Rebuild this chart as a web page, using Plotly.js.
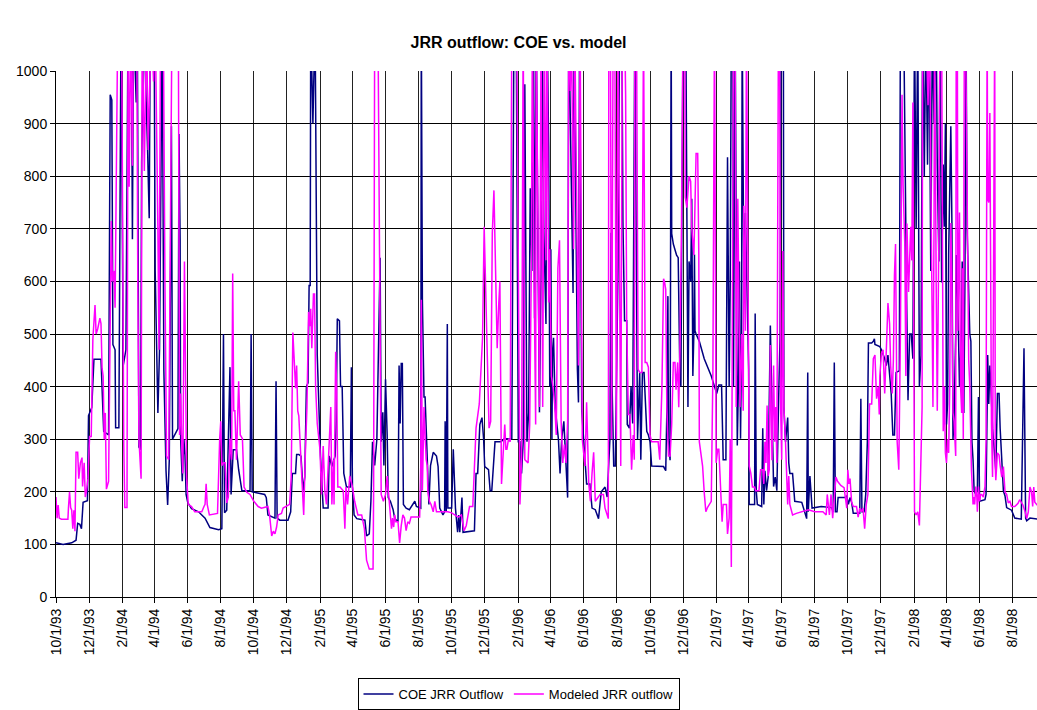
<!DOCTYPE html>
<html>
<head>
<meta charset="utf-8">
<script src="https://cdn.plot.ly/plotly-3.0.1.min.js"></script>
<style>html,body{margin:0;padding:0;background:#fff;}#chart{width:1037px;height:710px;}</style>
</head>
<body>
<div id="chart"></div>
<script>
// COE JRR Outflow (observed)
const coeDates = [
"1993-10-01","1993-10-14","1993-10-30","1993-11-07","1993-11-10","1993-11-14","1993-11-17","1993-11-20","1993-11-28","1993-11-30",
"1993-12-06","1993-12-10","1993-12-23","1993-12-26","1993-12-28","1994-01-06","1994-01-09","1994-01-12","1994-01-14","1994-01-18",
"1994-01-19","1994-01-25","1994-01-29","1994-02-02","1994-02-07","1994-02-11","1994-02-17","1994-02-19","1994-02-21","1994-02-26",
"1994-02-28","1994-03-03","1994-03-06","1994-03-08","1994-03-12","1994-03-19","1994-03-22","1994-03-24","1994-03-31","1994-04-02",
"1994-04-07","1994-04-10","1994-04-12","1994-04-15","1994-04-18","1994-04-22","1994-04-25","1994-04-28","1994-05-02","1994-05-04",
"1994-05-14","1994-05-16","1994-05-18","1994-05-19","1994-05-22","1994-05-25","1994-05-27","1994-05-29","1994-06-01","1994-06-08",
"1994-06-21","1994-07-03","1994-07-12","1994-07-28","1994-08-03","1994-08-06","1994-08-08","1994-08-12","1994-08-18","1994-08-20",
"1994-08-24","1994-08-30","1994-09-03","1994-09-09","1994-09-24","1994-09-26","1994-09-28","1994-10-21","1994-10-24","1994-10-27",
"1994-11-09","1994-11-11","1994-11-13","1994-11-18","1994-12-03","1994-12-08","1994-12-11","1994-12-17","1994-12-19","1994-12-23",
"1994-12-27","1994-12-31","1995-01-03","1995-01-06","1995-01-09","1995-01-11","1995-01-13","1995-01-14","1995-01-18","1995-01-22",
"1995-01-26","1995-01-30","1995-02-01","1995-02-03","1995-02-06","1995-02-15","1995-02-17","1995-02-22","1995-02-28","1995-03-02",
"1995-03-04","1995-03-08","1995-03-10","1995-03-13","1995-03-16","1995-03-21","1995-03-28","1995-03-30","1995-04-01","1995-04-04",
"1995-04-09","1995-04-24","1995-04-27","1995-05-02","1995-05-05","1995-05-08","1995-05-12","1995-05-16","1995-05-20","1995-05-22",
"1995-05-24","1995-05-27","1995-05-29","1995-06-01","1995-06-04","1995-06-06","1995-06-10","1995-06-15","1995-06-18","1995-06-24",
"1995-06-26","1995-06-28","1995-06-30","1995-07-02","1995-07-04","1995-07-09","1995-07-15","1995-07-25","1995-07-28","1995-08-05",
"1995-08-06","1995-08-08","1995-08-11","1995-08-13","1995-08-15","1995-08-17","1995-08-20","1995-08-23","1995-08-28","1995-09-03",
"1995-09-06","1995-09-09","1995-09-15","1995-09-18","1995-09-19","1995-09-21","1995-09-23","1995-09-24","1995-10-01","1995-10-04",
"1995-10-06","1995-10-08","1995-10-12","1995-10-14","1995-10-16","1995-10-20","1995-10-22","1995-11-12","1995-11-15","1995-11-18",
"1995-11-22","1995-11-26","1995-11-29","1995-12-01","1995-12-08","1995-12-11","1995-12-14","1995-12-17","1995-12-20","1995-12-31",
"1996-01-06","1996-01-20","1996-01-24","1996-01-28","1996-01-30","1996-02-01","1996-02-04","1996-02-07","1996-02-10","1996-02-13",
"1996-02-15","1996-02-17","1996-02-20","1996-02-23","1996-02-26","1996-02-29","1996-03-02","1996-03-05","1996-03-08","1996-03-11",
"1996-03-14","1996-03-16","1996-03-19","1996-03-23","1996-03-25","1996-03-28","1996-03-30","1996-04-01","1996-04-03","1996-04-04",
"1996-04-06","1996-04-09","1996-04-12","1996-04-15","1996-04-18","1996-04-21","1996-04-25","1996-04-28","1996-05-02","1996-05-04",
"1996-05-10","1996-05-12","1996-05-14","1996-05-20","1996-05-22","1996-05-24","1996-05-28","1996-06-03","1996-06-06","1996-06-12",
"1996-06-16","1996-06-22","1996-06-28","1996-07-03","1996-07-10","1996-07-14","1996-07-19","1996-07-21","1996-07-22","1996-07-23",
"1996-07-26","1996-07-29","1996-07-31","1996-08-03","1996-08-06","1996-08-10","1996-08-12","1996-08-15","1996-08-19","1996-08-20",
"1996-08-24","1996-08-27","1996-08-30","1996-09-03","1996-09-08","1996-09-12","1996-09-14","1996-09-17","1996-09-20","1996-09-23",
"1996-09-25","1996-09-28","1996-10-01","1996-10-04","1996-10-26","1996-10-30","1996-11-01","1996-11-03","1996-11-04","1996-11-07",
"1996-11-09","1996-11-10","1996-11-13","1996-11-19","1996-11-22","1996-11-25","1996-11-27","1996-12-01","1996-12-06","1996-12-10",
"1996-12-12","1996-12-15","1996-12-17","1996-12-19","1996-12-21","1996-12-22","1996-12-23","1996-12-25","1996-12-31","1997-01-09",
"1997-01-22","1997-01-28","1997-02-01","1997-02-05","1997-02-10","1997-02-13","1997-02-18","1997-02-21","1997-02-24","1997-02-26",
"1997-02-28","1997-03-03","1997-03-04","1997-03-07","1997-03-11","1997-03-13","1997-03-15","1997-03-17","1997-03-19","1997-03-20",
"1997-03-23","1997-03-26","1997-03-29","1997-04-01","1997-04-02","1997-04-12","1997-04-13","1997-04-15","1997-04-17","1997-04-25",
"1997-04-27","1997-04-29","1997-05-01","1997-05-04","1997-05-07","1997-05-09","1997-05-11","1997-05-14","1997-05-17","1997-05-20",
"1997-05-23","1997-05-26","1997-05-29","1997-05-31","1997-06-04","1997-06-05","1997-06-08","1997-06-12","1997-06-14","1997-06-16",
"1997-06-21","1997-06-23","1997-06-25","1997-07-08","1997-07-11","1997-07-14","1997-07-17","1997-07-19","1997-07-20","1997-07-23",
"1997-07-25","1997-07-27","1997-08-13","1997-09-01","1997-09-04","1997-09-06","1997-09-08","1997-09-11","1997-09-13","1997-09-25",
"1997-09-29","1997-10-02","1997-10-05","1997-10-08","1997-10-11","1997-10-23","1997-10-25","1997-10-27","1997-10-31","1997-11-03",
"1997-11-06","1997-11-08","1997-11-14","1997-11-17","1997-11-19","1997-11-20","1997-11-29","1997-12-02","1997-12-08","1997-12-11",
"1997-12-14","1997-12-17","1997-12-20","1997-12-23","1997-12-26","1997-12-29","1998-01-04","1998-01-06","1998-01-12","1998-01-17",
"1998-01-20","1998-01-23","1998-01-26","1998-01-29","1998-02-01","1998-02-04","1998-02-07","1998-02-10","1998-02-13","1998-02-16",
"1998-02-19","1998-02-22","1998-02-25","1998-02-28","1998-03-03","1998-03-06","1998-03-09","1998-03-13","1998-03-15","1998-03-18",
"1998-03-20","1998-03-23","1998-03-26","1998-03-28","1998-03-30","1998-04-01","1998-04-03","1998-04-05","1998-04-09","1998-04-11",
"1998-04-13","1998-04-15","1998-04-18","1998-04-19","1998-04-22","1998-04-25","1998-04-29","1998-04-30","1998-05-03","1998-05-05",
"1998-05-07","1998-05-09","1998-05-11","1998-05-14","1998-05-16","1998-05-18","1998-05-20","1998-05-22","1998-05-25","1998-05-28",
"1998-05-30","1998-06-01","1998-06-11","1998-06-13","1998-06-15","1998-06-16","1998-06-18","1998-06-20","1998-06-22","1998-06-25",
"1998-06-28","1998-07-01","1998-07-04","1998-07-07","1998-07-09","1998-07-12","1998-07-15","1998-07-18","1998-07-21","1998-07-30",
"1998-08-05","1998-08-17","1998-08-20","1998-08-22","1998-08-25","1998-08-27","1998-09-02","1998-09-15","1998-09-30"
];
const coeValues = [
103,100,103,108,140,138,130,180,183,345,
360,452,452,370,315,308,955,945,480,470,
322,322,1100,440,470,1100,1100,680,1100,940,
1100,285,280,825,1100,850,720,1100,1100,620,
350,470,740,1100,430,240,175,260,895,300,
320,880,680,300,220,300,270,195,180,168,
162,150,132,128,130,500,160,165,437,195,
280,280,242,202,202,500,200,195,189,156,
150,410,150,146,146,162,235,235,271,271,
268,202,228,400,407,592,592,1100,900,1100,
460,300,268,228,169,169,268,248,268,334,
529,525,400,400,235,209,209,437,209,156,
149,146,116,120,182,295,250,300,560,645,
295,351,250,414,308,189,182,166,149,143,
440,330,444,444,176,169,166,182,172,169,
1100,565,380,380,321,242,176,250,275,268,
248,169,156,162,334,162,519,169,169,281,
202,169,123,156,123,189,123,126,235,235,
328,341,300,248,242,202,202,255,295,295,
301,301,1100,1100,600,295,295,235,295,975,
625,295,350,777,620,1100,530,1100,700,351,
631,1100,700,519,1100,856,400,661,300,460,
493,361,330,300,235,300,334,275,189,1100,
668,578,1100,433,370,1100,354,249,215,215,
169,166,149,200,209,190,300,691,691,400,
249,249,400,631,1100,1100,714,525,525,328,
321,400,330,1100,300,427,261,427,427,367,
315,308,295,249,248,240,350,572,300,260,
1100,691,671,650,645,427,400,1100,1100,361,
638,600,757,420,506,651,506,500,486,453,
420,400,387,403,403,261,261,836,400,600,
1100,1100,400,1100,288,400,638,301,500,1100,
620,730,585,433,176,176,539,202,176,172,
321,176,240,202,228,400,516,361,210,228,
202,361,500,1100,1100,361,295,341,255,235,
235,209,182,180,169,156,149,427,162,230,
200,169,172,170,162,446,162,162,189,189,
192,176,189,180,159,159,377,162,162,195,
295,483,483,486,491,480,476,470,453,440,
460,420,387,308,308,427,430,1100,1100,600,
374,500,500,453,1100,700,1100,400,460,1100,
800,1100,822,1100,620,1100,900,1100,822,638,
1100,598,822,704,900,328,367,651,895,711,
300,341,500,650,559,400,519,638,350,600,
1100,700,600,500,486,295,261,202,195,202,
380,182,185,195,361,460,367,440,400,321,
281,240,387,387,321,260,202,192,170,165,
150,148,361,473,150,145,150,148,146
];

// Modeled JRR outflow
const modelDates = [
"1993-10-01","1993-10-03","1993-10-05","1993-10-07","1993-10-11","1993-10-23","1993-10-24","1993-10-26","1993-10-28","1993-10-30",
"1993-11-01","1993-11-03","1993-11-05","1993-11-07","1993-11-10","1993-11-12","1993-11-15","1993-11-18","1993-11-19","1993-11-22",
"1993-11-24","1993-11-26","1993-11-29","1993-12-02","1993-12-05","1993-12-08","1993-12-12","1993-12-14","1993-12-17","1993-12-21",
"1993-12-23","1993-12-25","1993-12-27","1993-12-29","1993-12-31","1994-01-02","1994-01-06","1994-01-08","1994-01-11","1994-01-13",
"1994-01-16","1994-01-18","1994-01-20","1994-01-23","1994-01-30","1994-02-03","1994-02-05","1994-02-09","1994-02-11","1994-02-13",
"1994-02-16","1994-02-19","1994-02-21","1994-02-27","1994-03-01","1994-03-03","1994-03-07","1994-03-09","1994-03-13","1994-03-17",
"1994-03-20","1994-03-26","1994-03-30","1994-04-02","1994-04-07","1994-04-09","1994-04-12","1994-04-17","1994-04-20","1994-04-23",
"1994-04-27","1994-05-01","1994-05-03","1994-05-12","1994-05-15","1994-05-17","1994-05-19","1994-05-21","1994-05-23","1994-05-26",
"1994-05-28","1994-05-30","1994-06-02","1994-06-08","1994-06-14","1994-06-27","1994-07-01","1994-07-03","1994-07-05","1994-07-07",
"1994-07-11","1994-07-26","1994-07-30","1994-08-01","1994-08-03","1994-08-06","1994-08-09","1994-08-12","1994-08-15","1994-08-18",
"1994-08-21","1994-08-23","1994-08-25","1994-08-27","1994-08-30","1994-09-03","1994-09-06","1994-09-10","1994-09-13","1994-09-18",
"1994-09-24","1994-10-01","1994-10-09","1994-10-15","1994-10-27","1994-10-30","1994-11-03","1994-11-06","1994-11-09","1994-11-12",
"1994-11-15","1994-11-21","1994-11-24","1994-11-30","1994-12-06","1994-12-09","1994-12-12","1994-12-15","1994-12-17","1994-12-19",
"1994-12-21","1994-12-23","1994-12-26","1994-12-29","1995-01-01","1995-01-04","1995-01-07","1995-01-10","1995-01-12","1995-01-14",
"1995-01-16","1995-01-19","1995-01-21","1995-01-23","1995-01-26","1995-01-31","1995-02-03","1995-02-06","1995-02-09","1995-02-12",
"1995-02-15","1995-02-18","1995-02-20","1995-02-22","1995-02-25","1995-02-26","1995-03-01","1995-03-03","1995-03-05","1995-03-09",
"1995-03-15","1995-03-18","1995-03-20","1995-03-23","1995-03-27","1995-04-01","1995-04-05","1995-04-11","1995-04-18","1995-04-23",
"1995-04-27","1995-05-02","1995-05-09","1995-05-10","1995-05-12","1995-05-18","1995-05-21","1995-05-24","1995-05-28","1995-06-01",
"1995-06-04","1995-06-07","1995-06-10","1995-06-12","1995-06-14","1995-06-16","1995-06-18","1995-06-20","1995-06-24","1995-06-27",
"1995-06-30","1995-07-03","1995-07-06","1995-07-09","1995-07-12","1995-07-15","1995-07-18","1995-08-03","1995-08-05","1995-08-06",
"1995-08-08","1995-08-11","1995-08-13","1995-08-15","1995-08-17","1995-08-18","1995-08-21","1995-08-24","1995-08-28","1995-08-31",
"1995-09-03","1995-09-24","1995-10-01","1995-10-07","1995-10-13","1995-10-19","1995-10-24","1995-10-28","1995-11-03","1995-11-09",
"1995-11-12","1995-11-15","1995-11-21","1995-11-24","1995-11-27","1995-11-30","1995-12-03","1995-12-06","1995-12-09","1995-12-12",
"1995-12-15","1995-12-18","1995-12-21","1995-12-24","1995-12-27","1995-12-29","1996-01-01","1996-01-03","1996-01-07","1996-01-09",
"1996-01-11","1996-01-14","1996-01-17","1996-01-20","1996-01-29","1996-02-04","1996-02-07","1996-02-10","1996-02-13","1996-02-19",
"1996-02-22","1996-02-25","1996-02-27","1996-03-01","1996-03-04","1996-03-05","1996-03-08","1996-03-11","1996-03-14","1996-03-17",
"1996-03-20","1996-03-23","1996-03-25","1996-03-28","1996-03-30","1996-04-02","1996-04-05","1996-04-08","1996-04-11","1996-04-14",
"1996-04-17","1996-04-19","1996-04-20","1996-04-23","1996-04-26","1996-04-29","1996-05-02","1996-05-04","1996-05-07","1996-05-09",
"1996-05-13","1996-05-15","1996-05-22","1996-05-25","1996-05-29","1996-06-03","1996-06-06","1996-06-10","1996-06-13","1996-06-16",
"1996-06-19","1996-06-22","1996-06-27","1996-07-01","1996-07-07","1996-07-10","1996-07-14","1996-07-16","1996-07-17","1996-07-20",
"1996-07-22","1996-07-25","1996-07-28","1996-07-31","1996-08-03","1996-08-06","1996-08-08","1996-08-11","1996-08-15","1996-08-17",
"1996-08-19","1996-08-22","1996-08-25","1996-08-28","1996-08-31","1996-09-02","1996-09-03","1996-09-06","1996-09-09","1996-09-12",
"1996-09-16","1996-09-19","1996-09-22","1996-09-25","1996-09-28","1996-10-01","1996-10-04","1996-10-16","1996-10-19","1996-10-23",
"1996-10-26","1996-10-28","1996-10-30","1996-11-01","1996-11-04","1996-11-07","1996-11-10","1996-11-13","1996-11-16","1996-11-18",
"1996-11-21","1996-11-23","1996-11-25","1996-11-28","1996-12-01","1996-12-04","1996-12-05","1996-12-08","1996-12-12","1996-12-15",
"1996-12-17","1996-12-21","1996-12-23","1996-12-25","1996-12-28","1996-12-30","1996-12-31","1997-01-03","1997-01-06","1997-01-09",
"1997-01-12","1997-01-15","1997-01-19","1997-01-22","1997-01-25","1997-01-28","1997-01-31","1997-02-03","1997-02-05","1997-02-09",
"1997-02-11","1997-02-13","1997-02-19","1997-02-21","1997-02-24","1997-02-26","1997-02-28","1997-03-01","1997-03-04","1997-03-07",
"1997-03-09","1997-03-12","1997-03-14","1997-03-16","1997-03-19","1997-03-22","1997-03-23","1997-03-26","1997-03-28","1997-03-30",
"1997-04-01","1997-04-02","1997-04-05","1997-04-08","1997-04-12","1997-04-14","1997-04-20","1997-04-23","1997-04-27","1997-04-29",
"1997-05-01","1997-05-03","1997-05-05","1997-05-07","1997-05-09","1997-05-11","1997-05-14","1997-05-17","1997-05-19","1997-05-21",
"1997-05-23","1997-05-26","1997-05-28","1997-05-30","1997-06-01","1997-06-03","1997-06-05","1997-06-08","1997-06-12","1997-06-14",
"1997-06-16","1997-06-21","1997-06-28","1997-07-20","1997-08-01","1997-08-16","1997-08-22","1997-08-24","1997-08-28","1997-08-31",
"1997-09-03","1997-09-06","1997-09-09","1997-09-12","1997-09-18","1997-09-24","1997-09-29","1997-10-01","1997-10-03","1997-10-05",
"1997-10-08","1997-10-11","1997-10-17","1997-10-20","1997-10-23","1997-10-26","1997-10-29","1997-11-01","1997-11-04","1997-11-07",
"1997-11-10","1997-11-14","1997-11-17","1997-11-20","1997-11-23","1997-11-26","1997-11-28","1997-11-29","1997-12-02","1997-12-05",
"1997-12-08","1997-12-11","1997-12-14","1997-12-17","1997-12-19","1997-12-22","1997-12-24","1997-12-26","1997-12-28","1997-12-31",
"1998-01-03","1998-01-06","1998-01-09","1998-01-11","1998-01-14","1998-01-16","1998-01-18","1998-01-21","1998-01-25","1998-01-27",
"1998-01-29","1998-01-31","1998-02-01","1998-02-04","1998-02-07","1998-02-10","1998-02-13","1998-02-15","1998-02-16","1998-02-22",
"1998-02-26","1998-03-01","1998-03-03","1998-03-07","1998-03-09","1998-03-10","1998-03-13","1998-03-15","1998-03-18","1998-03-20",
"1998-03-23","1998-03-25","1998-03-26","1998-03-28","1998-03-30","1998-04-01","1998-04-03","1998-04-05","1998-04-07","1998-04-09",
"1998-04-11","1998-04-13","1998-04-15","1998-04-18","1998-04-19","1998-04-21","1998-04-22","1998-04-25","1998-04-27","1998-04-29",
"1998-04-30","1998-05-02","1998-05-04","1998-05-06","1998-05-09","1998-05-11","1998-05-12","1998-05-14","1998-05-15","1998-05-17",
"1998-05-19","1998-05-20","1998-05-22","1998-05-23","1998-05-25","1998-05-27","1998-05-28","1998-05-30","1998-06-01","1998-06-03",
"1998-06-05","1998-06-08","1998-06-11","1998-06-13","1998-06-14","1998-06-15","1998-06-16","1998-06-18","1998-06-20","1998-06-23",
"1998-06-25","1998-06-26","1998-06-29","1998-06-30","1998-07-01","1998-07-04","1998-07-07","1998-07-09","1998-07-12","1998-07-15",
"1998-07-18","1998-07-21","1998-07-24","1998-07-27","1998-07-30","1998-08-05","1998-08-11","1998-08-14","1998-08-17","1998-08-20",
"1998-08-24","1998-08-27","1998-08-30","1998-09-02","1998-09-05","1998-09-07","1998-09-09","1998-09-11","1998-09-15","1998-09-30"
];
const modelValues = [
190,150,175,150,148,148,170,200,170,165,
130,165,125,275,275,225,255,265,210,255,
190,200,225,305,305,490,555,500,510,530,
520,435,420,300,350,205,220,450,715,600,
620,550,700,1100,1100,290,170,170,1100,780,
1100,820,1100,1100,580,300,225,1100,810,1100,
850,1100,980,1100,700,470,1100,1100,600,268,
261,747,1100,1100,1000,308,387,287,235,638,
341,228,176,172,162,162,172,176,215,176,
156,159,301,334,250,255,255,179,190,301,
261,615,354,354,261,410,308,301,209,199,
195,182,172,169,172,156,116,125,120,133,
156,159,169,172,176,228,503,440,397,440,
354,344,270,202,156,270,361,542,515,548,
473,576,576,400,330,281,195,287,202,176,
250,321,361,176,261,176,466,387,209,209,
202,130,209,176,230,209,182,156,156,130,
70,53,53,200,1100,1100,700,195,182,195,
230,195,155,130,150,133,156,143,143,103,
136,156,150,126,143,140,152,152,250,565,
202,361,308,261,250,202,182,176,162,182,
162,162,160,156,152,156,126,136,172,172,
248,321,367,420,493,704,554,407,321,334,
691,773,625,473,559,600,215,250,328,281,
281,301,295,1100,1100,176,261,1100,261,255,
328,625,1100,612,328,1100,680,361,1100,361,
1100,640,1100,560,661,420,400,367,308,625,
678,420,334,255,290,255,334,1100,962,1100,
661,1100,440,1100,300,249,370,215,182,235,
275,182,189,195,195,169,156,149,1100,1100,
300,1100,1100,300,1100,600,249,1100,1100,955,
519,347,347,242,308,261,1100,1100,433,427,
427,1100,446,446,437,308,295,295,261,400,
605,598,585,361,268,268,328,446,446,394,
446,361,459,700,1100,1100,760,740,800,790,
700,650,770,843,843,651,295,275,249,199,
162,170,176,182,427,1100,255,281,281,190,
143,176,176,120,150,300,57,280,1100,1100,
361,757,519,361,500,354,744,506,1100,691,
500,249,235,209,209,202,202,242,242,215,
295,255,364,230,242,479,260,440,295,361,
255,1100,1100,361,261,658,361,295,176,230,
176,156,159,166,162,162,156,195,156,195,
150,195,228,220,212,208,169,242,215,225,
180,172,172,152,169,162,169,130,176,195,
367,367,453,460,377,400,347,420,463,470,
387,470,559,520,440,387,450,612,671,295,
242,500,955,783,674,420,710,580,704,640,
940,420,162,156,162,136,260,361,1100,1100,
935,1100,820,361,700,1100,592,354,700,1100,
1100,500,315,400,274,255,300,274,400,711,
600,350,334,268,1100,1100,506,731,400,350,
625,300,1100,1100,800,592,450,400,320,242,
200,176,190,176,210,190,162,210,182,195,
195,190,210,300,700,1100,757,750,920,328,
228,400,1100,250,222,274,270,250,228,248,
199,195,179,182,172,172,178,185,180,175,
162,149,162,209,200,172,209,180,175,170
];

// Axis tick labels (every two months)
const tickDates = ["1993-10-01","1993-12-01","1994-02-01","1994-04-01","1994-06-01","1994-08-01","1994-10-01","1994-12-01",
"1995-02-01","1995-04-01","1995-06-01","1995-08-01","1995-10-01","1995-12-01","1996-02-01","1996-04-01","1996-06-01",
"1996-08-01","1996-10-01","1996-12-01","1997-02-01","1997-04-01","1997-06-01","1997-08-01","1997-10-01","1997-12-01",
"1998-02-01","1998-04-01","1998-06-01","1998-08-01"];
const tickLabels = ["10/1/93","12/1/93","2/1/94","4/1/94","6/1/94","8/1/94","10/1/94","12/1/94",
"2/1/95","4/1/95","6/1/95","8/1/95","10/1/95","12/1/95","2/1/96","4/1/96","6/1/96",
"8/1/96","10/1/96","12/1/96","2/1/97","4/1/97","6/1/97","8/1/97","10/1/97","12/1/97",
"2/1/98","4/1/98","6/1/98","8/1/98"];

const FONT = 'Arial, "Liberation Sans", sans-serif';

const traces = [
  {x: coeDates, y: coeValues, type: 'scatter', mode: 'lines', name: 'COE JRR Outflow',
   line: {color: '#000080', width: 1.5}},
  {x: modelDates, y: modelValues, type: 'scatter', mode: 'lines', name: 'Modeled JRR outflow',
   line: {color: '#FF00FF', width: 1.5}}
];

const layout = {
  width: 1037, height: 710,
  margin: {l: 56, r: 0, t: 71, b: 113, pad: 0},
  paper_bgcolor: '#ffffff', plot_bgcolor: '#ffffff',
  font: {family: FONT, size: 14, color: '#000'},
  title: {text: '<b>JRR outflow: COE vs. model</b>', font: {family: FONT, size: 16, color: '#000'},
          x: 0.5, xref: 'container', xanchor: 'center', y: 1 - 42/710, yref: 'container', yanchor: 'middle'},
  xaxis: {type: 'date', range: ['1993-10-01', '1998-09-15'], tickmode: 'array', tickvals: tickDates, ticktext: tickLabels,
          tickangle: -90, tickfont: {family: FONT, size: 14, color: '#000'},
          showgrid: true, gridcolor: '#222', gridwidth: 1, showline: true, linecolor: '#000', linewidth: 1,
          ticks: 'outside', ticklen: 5, tickcolor: '#000', zeroline: false, fixedrange: true},
  yaxis: {range: [0, 1000], tick0: 0, dtick: 100, tickfont: {family: FONT, size: 14, color: '#000'},
          showgrid: true, gridcolor: '#000', gridwidth: 1, showline: true, linecolor: '#000', linewidth: 1,
          ticks: 'outside', ticklen: 5, tickcolor: '#000', zeroline: false, fixedrange: true},
  showlegend: true,
  legend: {orientation: 'h', xref: 'container', yref: 'container', x: 0.5, xanchor: 'center',
           y: 1 - 694/710, yanchor: 'middle', bordercolor: '#000', borderwidth: 1, bgcolor: '#fff',
           font: {family: FONT, size: 13, color: '#000'}, itemwidth: 30, traceorder: 'normal'}
};

Plotly.newPlot('chart', traces, layout, {displayModeBar: false, staticPlot: true});
</script>
</body>
</html>
